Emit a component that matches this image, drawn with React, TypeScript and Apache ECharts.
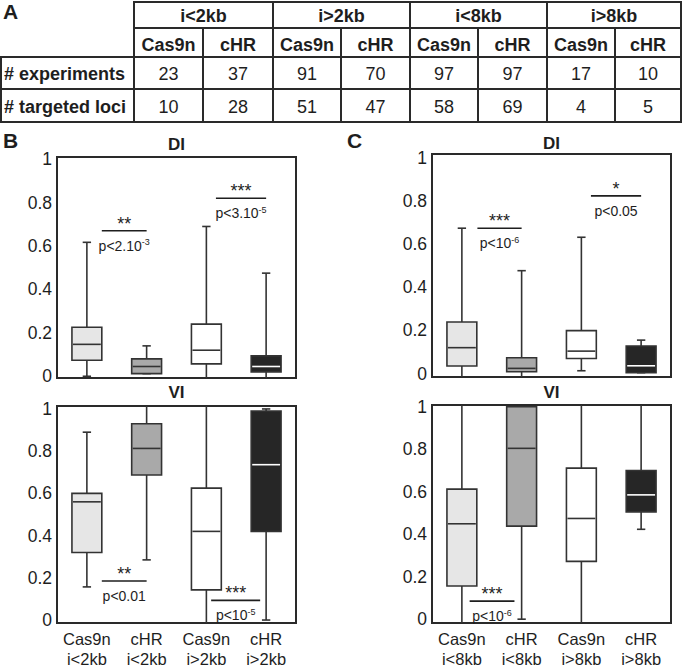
import React, { useEffect, useRef } from 'react';
import * as echarts from 'echarts';

// ---------- Panel A table ----------
const GROUPS = ['i<2kb', 'i>2kb', 'i<8kb', 'i>8kb'];
const SUBCOLS = ['Cas9n', 'cHR', 'Cas9n', 'cHR', 'Cas9n', 'cHR', 'Cas9n', 'cHR'];
const ROW_LABELS = ['# experiments', '# targeted loci'];
const EXPERIMENTS = [23, 37, 91, 70, 97, 97, 17, 10];
const LOCI = [10, 28, 51, 47, 58, 69, 4, 5];

// ---------- Box plots ----------
const Y_TICKS = [0, 0.2, 0.4, 0.6, 0.8, 1];
const CATS_B = ['Cas9n\ni<2kb', 'cHR\ni<2kb', 'Cas9n\ni>2kb', 'cHR\ni>2kb'];
const CATS_C = ['Cas9n\ni<8kb', 'cHR\ni<8kb', 'Cas9n\ni>8kb', 'cHR\ni>8kb'];

// [min, q1, median, q3, max]; whisker values beyond 0..1 run off the frame
const B_DI = [
  [0.0, 0.074, 0.147, 0.226, 0.617],
  [0.012, 0.012, 0.045, 0.08, 0.14],
  [-0.03, 0.057, 0.12, 0.24, 0.69],
  [-0.03, 0.02, 0.045, 0.094, 0.475],
];
const B_VI = [
  [0.157, 0.32, 0.56, 0.6, 0.89],
  [0.285, 0.687, 0.813, 0.93, 1.03],
  [-0.03, 0.143, 0.42, 0.625, 1.03],
  [0.0, 0.42, 0.736, 0.99, 1.0],
];
const C_DI = [
  [-0.03, 0.035, 0.12, 0.239, 0.674],
  [-0.03, 0.008, 0.024, 0.073, 0.477],
  [0.013, 0.07, 0.104, 0.199, 0.632],
  [0.004, 0.004, 0.036, 0.128, 0.155],
];
const C_VI = [
  [-0.03, 0.156, 0.449, 0.612, 1.03],
  [0.0, 0.438, 0.804, 1.0, 1.0],
  [-0.03, 0.272, 0.474, 0.711, 1.03],
  [0.423, 0.505, 0.585, 0.7, 1.03],
];

// significance brackets: span in category units, height in data units
const ANN_B_DI = [
  { x0: 0.25, x1: 1.0, y: 0.67, stars: '**', p: 'p<2.10', exp: '-3' },
  { x0: 2.16, x1: 3.0, y: 0.82, stars: '***', p: 'p<3.10', exp: '-5' },
];
const ANN_B_VI = [
  { x0: 0.25, x1: 1.0, y: 0.185, stars: '**', p: 'p<0.01', exp: '' },
  { x0: 2.08, x1: 2.9, y: 0.093, stars: '***', p: 'p<10', exp: '-5' },
];
const ANN_C_DI = [
  { x0: 0.26, x1: 1.0, y: 0.674, stars: '***', p: 'p<10', exp: '-6' },
  { x0: 2.16, x1: 3.0, y: 0.824, stars: '*', p: 'p<0.05', exp: '' },
];
const ANN_C_VI = [
  { x0: 0.13, x1: 0.88, y: 0.085, stars: '***', p: 'p<10', exp: '-6' },
];

const FILLS = ['#e6e6e6', '#a9a9a9', '#ffffff', '#262626'];
const MEDIAN_COLORS = ['#333333', '#333333', '#333333', '#ffffff'];
const FONT = '"Liberation Sans", Arial, sans-serif';
const INK = '#1e1e1e';
const EDGE = '#333333';

function boxRender(params: any, api: any) {
  const idx = api.value(0);
  const lo = api.value(1);
  const q1 = api.value(2);
  const med = api.value(3);
  const q3 = api.value(4);
  const hi = api.value(5);
  const band = api.size([1, 0])[0];
  const bw = band * 0.5;
  const cw = band * 0.14;
  const cs = params.coordSys;
  const top = cs.y;
  const bottom = cs.y + cs.height;
  const Y = (v: number) => api.coord([idx, v])[1];
  const cx = api.coord([idx, 0])[0];
  const children: any[] = [];
  const lineStyle = { stroke: EDGE, lineWidth: 1.6 };
  const yHi = hi > 1 ? top : Y(hi);
  const yLo = lo < 0 ? bottom : Y(lo);
  children.push({ type: 'line', shape: { x1: cx, y1: Y(q3), x2: cx, y2: yHi }, style: lineStyle });
  children.push({ type: 'line', shape: { x1: cx, y1: Y(q1), x2: cx, y2: yLo }, style: lineStyle });
  if (hi <= 1) children.push({ type: 'line', shape: { x1: cx - cw / 2, y1: yHi, x2: cx + cw / 2, y2: yHi }, style: lineStyle });
  if (lo >= 0) children.push({ type: 'line', shape: { x1: cx - cw / 2, y1: yLo, x2: cx + cw / 2, y2: yLo }, style: lineStyle });
  const yq3 = Y(q3);
  const yq1 = Y(q1);
  children.push({
    type: 'rect',
    shape: { x: cx - bw / 2, y: yq3, width: bw, height: yq1 - yq3 },
    style: { fill: FILLS[idx], stroke: EDGE, lineWidth: 1.6 },
  });
  const ym = Y(med);
  children.push({
    type: 'line',
    shape: { x1: cx - bw / 2 + 1, y1: ym, x2: cx + bw / 2 - 1, y2: ym },
    style: { stroke: MEDIAN_COLORS[idx], lineWidth: 1.6 },
  });
  return { type: 'group', children };
}

function makeAnnRender(anns: any[]) {
  return (params: any, api: any) => {
    const a = anns[params.dataIndex];
    const band = api.size([1, 0])[0];
    const i0 = Math.floor(a.x0);
    const i1 = Math.floor(a.x1);
    const x1 = api.coord([i0, a.y])[0] + (a.x0 - i0) * band;
    const x2 = api.coord([i1, a.y])[0] + (a.x1 - i1) * band;
    const y = api.coord([i0, a.y])[1];
    const mid = (x1 + x2) / 2;
    return {
      type: 'group',
      children: [
        { type: 'line', shape: { x1, y1: y, x2, y2: y }, style: { stroke: INK, lineWidth: 1.6 } },
        {
          type: 'text',
          x: mid,
          y: y - 1,
          style: {
            text: a.stars,
            fill: INK,
            font: `18px ${FONT}`,
            align: 'center',
            verticalAlign: 'bottom',
            textAlign: 'center',
            textVerticalAlign: 'bottom',
            lineHeight: 12,
            padding: [0, 0, 0, 0],
          },
        },
        {
          type: 'text',
          x: mid,
          y: y + 7,
          style: {
            text: a.exp ? `{p|${a.p}}{s|${a.exp}}` : `{p|${a.p}}`,
            fill: INK,
            font: `14px ${FONT}`,
            align: 'center',
            verticalAlign: 'top',
            textAlign: 'center',
            textVerticalAlign: 'top',
            rich: {
              p: { fontSize: 14, fontFamily: FONT, fill: INK, lineHeight: 16 },
              s: { fontSize: 9, fontFamily: FONT, fill: INK, verticalAlign: 'top', lineHeight: 16 },
            },
          },
        },
      ],
    };
  };
}

function textEl(text: string, x: number, y: number, font: string, align = 'center') {
  return {
    type: 'text',
    x,
    y,
    style: {
      text,
      font,
      fill: INK,
      align,
      verticalAlign: 'middle',
      textAlign: align,
      textVerticalAlign: 'middle',
    },
  };
}

function buildTable() {
  const COL_X = [134, 203, 273, 341, 410, 478, 547, 615, 681];
  const els: any[] = [];
  const ls = { stroke: '#2a2a2a', lineWidth: 2 };
  const hl = (y: number, xa: number, xb: number) =>
    els.push({ type: 'line', shape: { x1: xa, y1: y, x2: xb, y2: y }, style: ls });
  const vl = (x: number, ya: number, yb: number) =>
    els.push({ type: 'line', shape: { x1: x, y1: ya, x2: x, y2: yb }, style: ls });
  hl(2, 133, 682);
  hl(28, 134, 681);
  hl(57, 0, 682);
  hl(89, 0, 682);
  hl(122, 0, 682);
  vl(1, 56, 123);
  [0, 2, 4, 6, 8].forEach((k) => vl(COL_X[k], 1, 123));
  [1, 3, 5, 7].forEach((k) => vl(COL_X[k], 28, 123));
  const bold = `bold 18px ${FONT}`;
  const reg = `18px ${FONT}`;
  GROUPS.forEach((g, i) => els.push(textEl(g, (COL_X[2 * i] + COL_X[2 * i + 2]) / 2, 16, bold)));
  SUBCOLS.forEach((s, i) => els.push(textEl(s, (COL_X[i] + COL_X[i + 1]) / 2, 45, bold)));
  const rowsY = [74, 107];
  ROW_LABELS.forEach((r, i) => els.push(textEl(r, 4, rowsY[i], bold, 'left')));
  EXPERIMENTS.forEach((v, i) => els.push(textEl(String(v), (COL_X[i] + COL_X[i + 1]) / 2, rowsY[0], reg)));
  LOCI.forEach((v, i) => els.push(textEl(String(v), (COL_X[i] + COL_X[i + 1]) / 2, rowsY[1], reg)));
  return els;
}

export default function App() {
  const ref = useRef<HTMLDivElement>(null);
  useEffect(() => {
    if (!ref.current) return;
    const chart = echarts.init(ref.current, null, { renderer: 'svg' });
    const panels = [
      { cats: CATS_B, boxes: B_DI, anns: ANN_B_DI, grid: { left: 57, top: 157, width: 239, height: 221 }, yr: [-0.008, 1.01], showX: false },
      { cats: CATS_B, boxes: B_VI, anns: ANN_B_VI, grid: { left: 57, top: 406, width: 239, height: 222 }, yr: [-0.014, 1.014], showX: true },
      { cats: CATS_C, boxes: C_DI, anns: ANN_C_DI, grid: { left: 432, top: 154, width: 239, height: 223 }, yr: [-0.016, 1.018], showX: false },
      { cats: CATS_C, boxes: C_VI, anns: ANN_C_VI, grid: { left: 432, top: 405, width: 239, height: 222 }, yr: [-0.018, 1.008], showX: true },
    ];
    const grids = panels.map((p) => ({
      ...p.grid,
      show: true,
      borderColor: '#2a2a2a',
      borderWidth: 2,
      backgroundColor: 'transparent',
      containLabel: false,
    }));
    const xAxes = panels.map((p, i) => ({
      type: 'category',
      gridIndex: i,
      data: p.cats,
      boundaryGap: true,
      axisLine: { show: false },
      axisTick: { show: false },
      splitLine: { show: false },
      axisLabel: {
        show: p.showX,
        interval: 0,
        fontSize: 16.5,
        lineHeight: 20,
        margin: 6,
        color: INK,
        fontFamily: FONT,
      },
    }));
    const yAxes = panels.map((p, i) => ({
      type: 'value',
      gridIndex: i,
      min: p.yr[0],
      max: p.yr[1],
      axisLine: { show: false },
      axisTick: { show: false },
      splitLine: { show: false },
      axisLabel: {
        customValues: Y_TICKS,
        formatter: (v: number) => String(Math.round(v * 10) / 10),
        fontSize: 17.5,
        margin: 5,
        color: INK,
        fontFamily: FONT,
      },
    }));
    const series: any[] = [];
    panels.forEach((p, i) => {
      series.push({
        type: 'custom',
        xAxisIndex: i,
        yAxisIndex: i,
        renderItem: boxRender,
        data: p.boxes.map((b, k) => [k, ...b]),
        encode: { x: 0, y: [1, 2, 3, 4, 5] },
        clip: false,
        silent: true,
      });
      series.push({
        type: 'custom',
        xAxisIndex: i,
        yAxisIndex: i,
        renderItem: makeAnnRender(p.anns),
        data: p.anns.map((a) => [Math.floor(a.x0), a.y]),
        encode: { x: 0, y: 1 },
        clip: false,
        silent: true,
      });
    });
    const graphics: any[] = [
      ...buildTable(),
      textEl('A', 3, 11, `bold 21px ${FONT}`, 'left'),
      textEl('B', 3, 140, `bold 21px ${FONT}`, 'left'),
      textEl('C', 347, 140, `bold 21px ${FONT}`, 'left'),
      textEl('DI', 176.5, 144, `bold 17px ${FONT}`),
      textEl('VI', 176.5, 392, `bold 17px ${FONT}`),
      textEl('DI', 551.5, 143, `bold 17px ${FONT}`),
      textEl('VI', 551.5, 392, `bold 17px ${FONT}`),
    ];
    chart.setOption({
      animation: false,
      backgroundColor: '#ffffff',
      textStyle: { fontFamily: FONT },
      grid: grids,
      xAxis: xAxes,
      yAxis: yAxes,
      series,
      graphic: { elements: graphics },
    });
    return () => chart.dispose();
  }, []);
  return (
    <div
      ref={ref}
      style={{ position: 'absolute', left: 0, top: 0, width: 685, height: 669, background: '#fff' }}
    />
  );
}
